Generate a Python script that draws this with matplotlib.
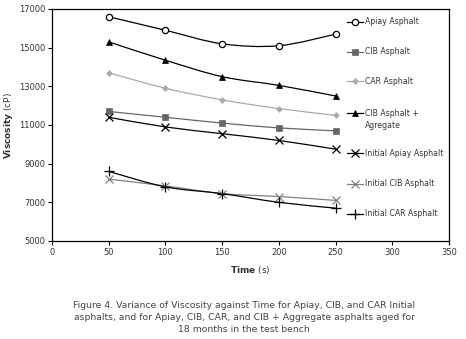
import numpy as np
import matplotlib
matplotlib.use("Agg")
import matplotlib.pyplot as plt
from matplotlib.path import Path
from matplotlib.patches import PathPatch
from matplotlib.lines import Line2D

plt.rcParams['font.family'] = ['DejaVu Sans']
plt.rcParams['mathtext.fontset'] = 'custom'
plt.rcParams['mathtext.bf'] = 'DejaVu Sans:bold'
plt.rcParams['mathtext.rm'] = 'DejaVu Sans'

time_s = [50, 100, 150, 200, 250]
apiay = [16600, 15900, 15200, 15100, 15700]
cib = [11700, 11400, 11100, 10850, 10700]
car = [13700, 12900, 12300, 11850, 11500]
cib_agg = [15300, 14350, 13500, 13050, 12500]
init_apiay = [11400, 10900, 10550, 10200, 9750]
init_cib = [8200, 7850, 7450, 7300, 7100]
init_car = [8600, 7800, 7450, 7000, 6700]

labels = ["Apiay Asphalt", "CIB Asphalt", "CAR Asphalt", "CIB Asphalt +\nAgregate",
          "Initial Apiay Asphalt", "Initial CIB Asphalt", "Initial CAR Asphalt"]
xticks = [0, 50, 100, 150, 200, 250, 300, 350]
yticks = [5000, 7000, 9000, 11000, 13000, 15000, 17000]

series = [apiay, cib, car, cib_agg, init_apiay, init_cib, init_car]
styles = [
    dict(color='black', marker='o', mfc='white', mec='black', ms=4.5, mew=0.9),
    dict(color='#666666', marker='s', mfc='#666666', mec='#666666', ms=4.5, mew=0.5),
    dict(color='#aaaaaa', marker='D', mfc='#aaaaaa', mec='#aaaaaa', ms=3, mew=0.5),
    dict(color='black', marker='^', mfc='black', mec='black', ms=4.2, mew=0.5),
    dict(color='black', marker='x', mfc='black', mec='black', ms=5.5, mew=0.9),
    dict(color='#808080', marker='x', mfc='#808080', mec='#808080', ms=5.5, mew=0.9),
    dict(color='black', marker='+', mfc='black', mec='black', ms=7.5, mew=0.9),
]
lw = 0.9
tc = '#333333'

fig = plt.figure(figsize=(4.66, 3.39), dpi=100)
ax = fig.add_axes([52/466, 1-241/339, (449-52)/466, (241-9)/339])


def smooth_path(xs, ys):
    pts = np.column_stack([xs, ys]).astype(float)
    n = len(pts)
    verts = [pts[0]]
    codes = [Path.MOVETO]
    for i in range(n - 1):
        p0 = pts[i - 1] if i > 0 else pts[i]
        p1 = pts[i]
        p2 = pts[i + 1]
        p3 = pts[i + 2] if i + 2 < n else pts[i + 1]
        c1 = p1 + (p2 - p0) / 6.0
        c2 = p2 - (p3 - p1) / 6.0
        verts += [c1, c2, p2]
        codes += [Path.CURVE4] * 3
    return Path(verts, codes)


for ys, st in zip(series, styles):
    ax.add_patch(PathPatch(smooth_path(time_s, ys), fill=False, edgecolor=st['color'],
                           lw=lw, zorder=2))
    ax.plot(time_s, ys, linestyle='none', marker=st['marker'], ms=st['ms'],
            mfc=st['mfc'], mec=st['mec'], mew=st['mew'], zorder=3)

ax.set_xlim(0, 350)
ax.set_ylim(5000, 17000)
ax.set_xticks(xticks)
ax.set_yticks(yticks)
ax.tick_params(direction='out', length=3, width=0.8, colors='black', labelsize=6,
               labelcolor=tc, pad=2)
for s in ax.spines.values():
    s.set_linewidth(0.9)

ax.set_xlabel(r'$\bf{Time}$ (s)', fontsize=6.5, color=tc, labelpad=5)
ax.set_ylabel(r'$\bf{Viscosity}$ (cP)', fontsize=6.5, color=tc, labelpad=3)

# legend (manual, inside plot frame)
leg_y = [22, 52, 81, 113, 153, 184, 214]
for yy, lab, st in zip(leg_y, labels, styles):
    ya = 1 - (yy - 9) / 232
    x0 = (347 - 52) / 397
    x1 = (363 - 52) / 397
    xm = (x0 + x1) / 2
    ax.add_line(Line2D([x0, x1], [ya, ya], transform=ax.transAxes, color=st['color'], lw=lw,
                       clip_on=False))
    ax.add_line(Line2D([xm], [ya], transform=ax.transAxes, marker=st['marker'], ms=st['ms'],
                       mfc=st['mfc'], mec=st['mec'], mew=st['mew'], linestyle='none',
                       clip_on=False))
    if '\n' in lab:
        first, second = lab.split('\n')
        ax.text((365 - 52) / 397, ya, first, transform=ax.transAxes, fontsize=5.6, color=tc,
                va='center', ha='left')
        ax.text((365 - 52) / 397, ya - 12 / 232, second, transform=ax.transAxes, fontsize=5.6,
                color=tc, va='center', ha='left')
    else:
        ax.text((365 - 52) / 397, ya, lab, transform=ax.transAxes, fontsize=5.6, color=tc,
                va='center', ha='left')

caption = ("Figure 4. Variance of Viscosity against Time for Apiay, CIB, and CAR Initial\n"
           "asphalts, and for Apiay, CIB, CAR, and CIB + Aggregate asphalts aged for\n"
           "18 months in the test bench")
fig.text(244/466, 1 - 301/339, caption, ha='center', va='top', fontsize=6.7, color='#444444',
         linespacing=1.45)

fig.savefig('out.png', dpi=100)
